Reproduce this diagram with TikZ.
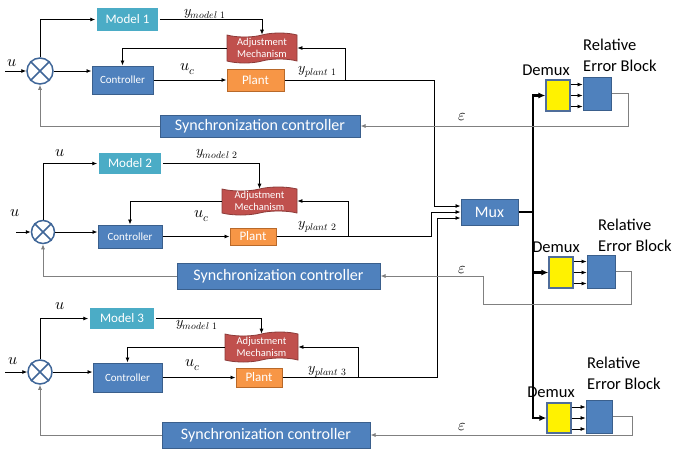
\documentclass[tikz,border=0pt]{standalone}
\usepackage{fontspec}
\usepackage{unicode-math}
\setmainfont{Carlito}
\setmathfont{Latin Modern Math}
\usetikzlibrary{arrows.meta,shapes.symbols,shadows}
\definecolor{blkblue}{HTML}{4F81BD}
\definecolor{blkline}{HTML}{3A5F8C}
\definecolor{mdlteal}{HTML}{4BACC6}
\definecolor{adjred}{HTML}{C0504D}
\definecolor{adjline}{HTML}{8C3B39}
\definecolor{pltorange}{HTML}{F79646}
\definecolor{pltline}{HTML}{B8692A}
\definecolor{dmxline}{HTML}{4F6D9A}
\definecolor{fbgray}{HTML}{808080}
\definecolor{sumblue}{HTML}{3F6698}

\begin{document}
\begin{tikzpicture}[x=1pt,y=-1pt,>={Latex[length=5pt,width=4pt]},
  sig/.style={draw=black,line width=0.8pt},
  fb/.style={draw=fbgray,line width=0.8pt},
  bus/.style={draw=black,line width=2.2pt},
  blk/.style={fill=blkblue,draw=blkline,line width=1pt,text=white,inner sep=0pt},
  mdl/.style={fill=mdlteal,draw=white,line width=1.5pt,text=white,inner sep=0pt,
    drop shadow={shadow xshift=1pt,shadow yshift=-1.2pt,opacity=0.3},font=\fontsize{13}{13}\selectfont},
  adj/.style={shape=tape,tape bend height=4pt,fill=adjred,draw=adjline,line width=0.8pt,
    text=white,inner sep=0pt,align=center,font=\fontsize{10.5}{12}\selectfont},
  plt/.style={fill=pltorange,draw=pltline,line width=1pt,text=white,inner sep=0pt,
    font=\fontsize{13}{13}\selectfont},
  ctl/.style={blk,font=\fontsize{11}{11}\selectfont},
  syn/.style={blk,font=\fontsize{16}{16}\selectfont},
  dmx/.style={fill=yellow,draw=dmxline,line width=1.2pt,minimum width=24pt,minimum height=31pt,inner sep=0pt},
  reb/.style={blk,minimum width=28pt,minimum height=33pt},
  sumnode/.style={circle,draw=sumblue,line width=1.5pt,fill=white,inner sep=0pt},
  lbl/.style={font=\fontsize{16.5}{21}\selectfont,inner sep=0pt},
  mth/.style={font=\fontsize{14}{14}\selectfont,inner sep=0pt},
  sym/.style={font=\fontsize{16}{16}\selectfont,inner sep=0pt}]
\useasboundingbox (0,0) rectangle (673,451);

% --- first loop
\node[sumnode,minimum size=26pt] (sum1) at (40,71) {};
\draw[sumblue,line width=1.5pt] (sum1.north west) -- (sum1.south east) (sum1.north east) -- (sum1.south west);
\node[mdl,minimum width=63pt,minimum height=25pt] (model1) at (127.5,19.5) {Model 1};
\node[adj,minimum width=70pt,minimum height=30pt] (adj1) at (262,48) {Adjustment\\Mechanism};
\node[ctl,minimum width=61pt,minimum height=28pt] (ctrl1) at (122.5,80) {Controller};
\node[plt,minimum width=57pt,minimum height=22pt] (plant1) at (255.5,80) {Plant};
\node[syn,minimum width=200pt,minimum height=22pt] (sync1) at (260,126) {Synchronization controller};
\coordinate (in1) at (5,71);
\coordinate (j1) at (345,80);
\coordinate (b1) at (434,80);
\draw[sig,->] (in1) -- (sum1.west);
\draw[sig,->] (sum1.north) |- (model1.west);
\draw[sig,->] (model1.east) -| (adj1.north);
\draw[sig,->] (adj1.west) -| (ctrl1.north);
\draw[sig,->] (sum1.east) -- (sum1.east -| ctrl1.west);
\draw[sig,->] (ctrl1.east) -- (plant1.west);
\draw[sig] (plant1.east) -- (b1);
\draw[sig,->] (j1) |- (adj1.east);
\draw[fb,->] (sync1.west) -| (sum1.south);
\node[sym] at (12,63) {$u$};
\node[mth] at (205,14) {$y_{model\,\,1}$};
\node[sym] at (188,69) {$u_c$};
\node[mth] at (318,72) {$y_{plant\,\,1}$};

% --- second loop
\node[sumnode,minimum size=23pt] (sum2) at (43,232) {};
\draw[sumblue,line width=1.5pt] (sum2.north west) -- (sum2.south east) (sum2.north east) -- (sum2.south west);
\node[mdl,minimum width=64pt,minimum height=23pt] (model2) at (130,163.5) {Model 2};
\node[adj,minimum width=75pt,minimum height=28pt] (adj2) at (259.5,201) {Adjustment\\Mechanism};
\node[ctl,minimum width=64pt,minimum height=23pt] (ctrl2) at (130,236.5) {Controller};
\node[plt,minimum width=46pt,minimum height=17pt] (plant2) at (253,236.5) {Plant};
\node[syn,minimum width=203pt,minimum height=26pt] (sync2) at (278.5,276) {Synchronization controller};
\coordinate (in2) at (16,232);
\coordinate (j2) at (348,236.5);
\coordinate (b2) at (431,236.5);
\draw[sig,->] (in2) -- (sum2.west);
\draw[sig,->] (sum2.north) |- (model2.west);
\draw[sig,->] (model2.east) -| (adj2.north);
\draw[sig,->] (adj2.west) -| (ctrl2.north);
\draw[sig,->] (sum2.east) -- (sum2.east -| ctrl2.west);
\draw[sig,->] (ctrl2.east) -- (plant2.west);
\draw[sig] (plant2.east) -- (b2);
\draw[sig,->] (j2) |- (adj2.east);
\draw[fb,->] (sync2.west) -| (sum2.south);
\node[sym] at (15,213) {$u$};
\node[sym] at (60,153) {$u$};
\node[mth] at (217,154) {$y_{model\,\,2}$};
\node[sym] at (202,216) {$u_c$};
\node[mth] at (318,227) {$y_{plant\,\,2}$};

% --- third loop
\node[sumnode,minimum size=24pt] (sum3) at (40,372) {};
\draw[sumblue,line width=1.5pt] (sum3.north west) -- (sum3.south east) (sum3.north east) -- (sum3.south west);
\node[mdl,minimum width=66pt,minimum height=23pt] (model3) at (122,318.5) {Model 3};
\node[adj,minimum width=73pt,minimum height=30pt] (adj3) at (261.5,347) {Adjustment\\Mechanism};
\node[ctl,minimum width=69pt,minimum height=29pt] (ctrl3) at (127.5,377.5) {Controller};
\node[plt,minimum width=46pt,minimum height=19pt] (plant3) at (259,377.5) {Plant};
\node[syn,minimum width=208pt,minimum height=26pt] (sync3) at (266,435) {Synchronization controller};
\coordinate (in3) at (5,372);
\coordinate (j3) at (358,377.5);
\coordinate (b3) at (437,377.5);
\draw[sig,->] (in3) -- (sum3.west);
\draw[sig,->] (sum3.north) |- (model3.west);
\draw[sig,->] (model3.east) -| (adj3.north);
\draw[sig,->] (adj3.west) -| (ctrl3.north);
\draw[sig,->] (sum3.east) -- (sum3.east -| ctrl3.west);
\draw[sig,->] (ctrl3.east) -- (plant3.west);
\draw[sig] (plant3.east) -- (b3);
\draw[sig,->] (j3) |- (adj3.east);
\draw[fb,->] (sync3.west) -| (sum3.south);
\node[sym] at (13,361) {$u$};
\node[sym] at (60,306) {$u$};
\node[mth] at (197,325) {$y_{model\,\,1}$};
\node[sym] at (193,365) {$u_c$};
\node[mth] at (328,372) {$y_{plant\,\,3}$};

% --- mux and error blocks
\node[blk,minimum width=57pt,minimum height=26pt,font=\fontsize{16}{16}\selectfont] (mux) at (489.5,212) {Mux};
\draw[sig,->] (b1) |- ([yshift=6pt]mux.west);
\draw[sig,->] (b2) |- (mux.west);
\draw[sig,->] (b3) |- ([yshift=-6pt]mux.west);

\node[dmx] (dmx1) at (558,95.5) {};
\node[dmx] (dmx2) at (561,272.5) {};
\node[dmx,minimum height=30pt] (dmx3) at (559,418) {};
\node[reb] (reb1) at (597,93.5) {};
\node[reb] (reb2) at (601,271.5) {};
\node[reb,minimum width=26pt] (reb3) at (599,416.5) {};
\coordinate (bj) at (533,212);
\draw[bus] (mux.east) -- (bj);
\draw[bus,-{Latex[length=7pt,width=6pt]}] (bj) |- (dmx1.west);
\draw[bus,-{Latex[length=7pt,width=6pt]}] (bj) |- (dmx2.west);
\draw[bus,-{Latex[length=7pt,width=6pt]}] (bj) |- (dmx3.west);
\foreach \s in {-11,0,11} {
  \draw[sig,line width=0.6pt,->] ([yshift=\s pt]dmx1.east) -- ([yshift=\s pt]dmx1.east -| reb1.west);
  \draw[sig,line width=0.6pt,->] ([yshift=\s pt]dmx2.east) -- ([yshift=\s pt]dmx2.east -| reb2.west);
  \draw[sig,line width=0.6pt,->] ([yshift=\s pt]dmx3.east) -- ([yshift=\s pt]dmx3.east -| reb3.west);
}
\node[lbl] at (546,70) {Demux};
\node[lbl] at (556,247) {Demux};
\node[lbl] at (551,392) {Demux};
\node[lbl,align=left,anchor=west] at (583,55.5) {Relative\\Error Block};
\node[lbl,align=left,anchor=west] at (598,235.5) {Relative\\Error Block};
\node[lbl,align=left,anchor=west] at (587,373.5) {Relative\\Error Block};

\coordinate (e2) at (483,304);
\draw[fb,->] (reb1.east) -- ++(17,0) |- (sync1.east);
\draw[fb,->] (reb2.east) -- ++(16,0) |- (e2) |- (sync2.east);
\draw[fb,->] (reb3.east) -- ++(20,0) |- (sync3.east);
\node[sym] at (462,117) {$\varepsilon$};
\node[sym] at (462,270) {$\varepsilon$};
\node[sym] at (462,427) {$\varepsilon$};
\end{tikzpicture}
\end{document}
